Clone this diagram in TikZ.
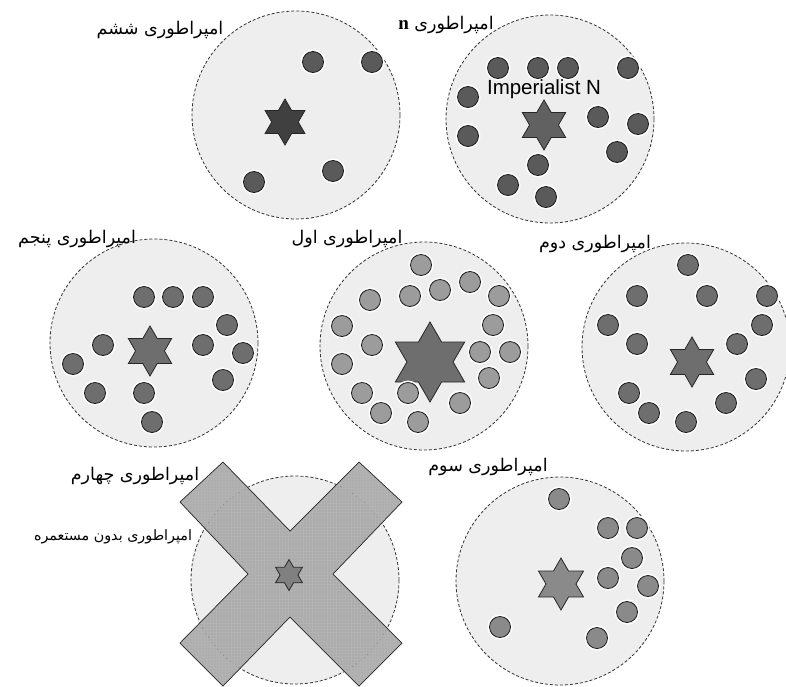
\documentclass[tikz,border=0pt]{standalone}
\usepackage{fontspec}
\usetikzlibrary{shapes.geometric,patterns}
\TeXXeTstate=1
\newfontfamily\arabicfont[Script=Arabic]{DejaVu Sans}
\newfontfamily\latinserif{Liberation Serif}
\newfontfamily\latinsans{Liberation Sans}
\definecolor{bgc}{HTML}{EEEEEE}
\definecolor{dotdark}{HTML}{5A5A5A}
\definecolor{dotmid}{HTML}{6E6E6E}
\definecolor{dotlight}{HTML}{9C9C9C}
\definecolor{dotsoft}{HTML}{8A8A8A}
\definecolor{xfill}{HTML}{A0A0A0}
\tikzset{
  empire/.style={circle, minimum size=208pt, inner sep=0pt, fill=bgc, draw=black!80, dashed, dash pattern=on 3pt off 2pt, line width=0.8pt},
  colony/.style={circle, minimum size=21pt, inner sep=0pt, fill=#1, draw=black!90, line width=0.8pt, preaction={draw=white, line width=4pt}},
  imperial/.style 2 args={star, star points=6, star point ratio=1.732, minimum size=#1, inner sep=0pt, fill=#2, draw=black!85, line width=0.8pt},
  lbl/.style={font=\arabicfont\fontsize{17.5}{20}\selectfont, inner sep=0pt},
  lblsmall/.style={font=\arabicfont\fontsize{14.3}{16}\selectfont, inner sep=0pt}
}
\begin{document}
\begin{tikzpicture}[x=1pt,y=-1pt]
\useasboundingbox (0,0) rectangle (786,686);
\fill[white] (0,0) rectangle (786,686);

% ---- empire 6 (top-left)
\node[empire] (e6) at (296,115) {};
\node[imperial={46pt}{black!75}] (s6) at (285,122) {};
\foreach \i/\x/\y in {1/313/62, 2/372/62, 3/333/171, 4/254/182}
  \node[colony=dotdark] (c6\i) at (\x,\y) {};
\node[lbl] (l6) at (160,30) {\beginR امپراطوری ششم\endR};

% ---- empire n (top-right)
\node[empire] (en) at (550,119) {};
\node[imperial={50pt}{black!62}] (sn) at (544,125) {};
\foreach \i/\x/\y in {1/498/68, 2/538/68, 3/568/68, 4/628/68, 5/468/97, 6/468/136, 7/598/117, 8/638/124, 9/617/152, 10/538/165, 11/508/185, 12/546/197}
  \node[colony=dotdark] (cn\i) at (\x,\y) {};
\node[font=\latinsans\fontsize{20.5}{22}\selectfont, inner sep=0pt] (tn) at (544,89) {Imperialist N};
\node[lbl] (ln) at (446,25) {\beginR امپراطوری {\latinserif\bfseries\fontsize{19}{20}\selectfont\beginL n\endL}\endR};

% ---- empire 5 (middle-left)
\node[empire] (e5) at (154,343) {};
\node[imperial={50pt}{dotmid}] (s5) at (150,351) {};
\foreach \i/\x/\y in {1/144/297, 2/173/297, 3/203/297, 4/227/325, 5/103/345, 6/203/345, 7/243/353, 8/73/364, 9/223/380, 10/95/393, 11/144/393, 12/152/422}
  \node[colony=dotmid] (c5\i) at (\x,\y) {};
\node[lbl] (l5) at (77,239) {\beginR امپراطوری پنجم\endR};

% ---- empire 1 (middle-center)
\node[empire] (e1) at (424,346) {};
\node[imperial={80pt}{dotmid}] (s1) at (430,362) {};
\foreach \i/\x/\y in {1/421/265, 2/470/282, 3/370/300, 4/410/296, 5/440/290, 6/499/296, 7/342/326, 8/493/325, 9/372/345, 10/480/352, 11/510/352, 12/342/364, 13/489/378, 14/362/393, 15/408/393, 16/460/403, 17/381/413, 18/418/422}
  \node[colony=dotlight] (c1\i) at (\x,\y) {};
\node[lbl] (l1) at (347,239) {\beginR امپراطوری اول\endR};

% ---- empire 2 (middle-right)
\node[empire] (e2) at (686,347) {};
\node[imperial={50pt}{dotmid}] (s2) at (692,362) {};
\foreach \i/\x/\y in {1/688/265, 2/637/296, 3/707/296, 4/767/296, 5/608/325, 6/762/325, 7/637/344, 8/737/344, 9/756/379, 10/629/393, 11/726/403, 12/649/413, 13/686/422}
  \node[colony=dotmid] (c2\i) at (\x,\y) {};
\node[lbl] (l2) at (595,244) {\beginR امپراطوری دوم\endR};

% ---- empire 3 (bottom-right)
\node[empire] (e3) at (560,581) {};
\node[imperial={52pt}{dotsoft}] (s3) at (561,584) {};
\foreach \i/\x/\y in {1/559/499, 2/608/528, 3/637/528, 4/632/558, 5/608/578, 6/648/586, 7/627/612, 8/500/627, 9/597/638}
  \node[colony=dotsoft] (c3\i) at (\x,\y) {};
\node[lbl] (l3) at (488,467) {\beginR امپراطوری سوم\endR};

% ---- empire 4 (bottom-left, eliminated)
\node[empire] (e4) at (295,580) {};
\coordinate (x1) at (223,462);
\coordinate (x2) at (290,531);
\coordinate (x3) at (359,462);
\coordinate (x4) at (402,502);
\coordinate (x5) at (333,574);
\coordinate (x6) at (402,643);
\coordinate (x7) at (359,686);
\coordinate (x8) at (290,617);
\coordinate (x9) at (223,686);
\coordinate (x10) at (180,643);
\coordinate (x11) at (248,574);
\coordinate (x12) at (180,502);
\fill[xfill, opacity=0.85] (x1) -- (x2) -- (x3) -- (x4) -- (x5) -- (x6) -- (x7) -- (x8) -- (x9) -- (x10) -- (x11) -- (x12) -- cycle;
\fill[pattern=grid, pattern color=black!30] (x1) -- (x2) -- (x3) -- (x4) -- (x5) -- (x6) -- (x7) -- (x8) -- (x9) -- (x10) -- (x11) -- (x12) -- cycle;
\draw[black!85, line width=0.7pt, line join=miter] (x1) -- (x2) -- (x3) -- (x4) -- (x5) -- (x6) -- (x7) -- (x8) -- (x9) -- (x10) -- (x11) -- (x12) -- cycle;
\node[imperial={31pt}{black!50}] (s4) at (289,575) {};
\node[lbl] (l4) at (135,476) {\beginR امپراطوری چهارم\endR};
\node[lblsmall] (l4b) at (113,537) {\beginR امپراطوری بدون مستعمره\endR};
\end{tikzpicture}
\end{document}
